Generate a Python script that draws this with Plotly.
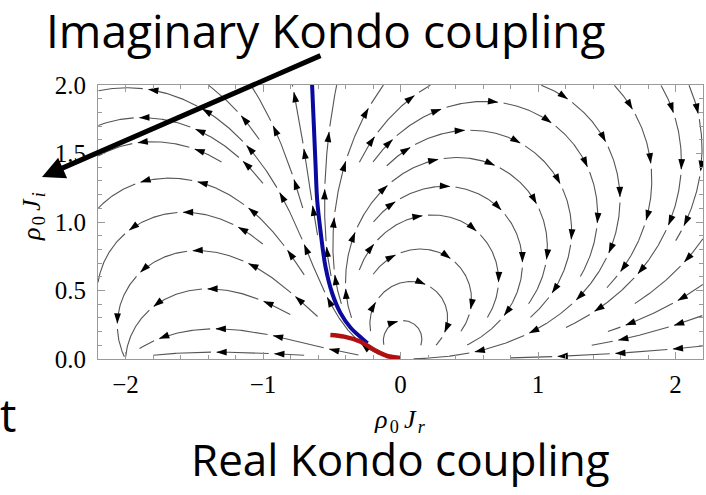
import numpy as np
import plotly.graph_objects as go

# Flow equation dJ/dl = -J^2 - J^3/2 for the complex coupling J = Jr + i Ji
# (polynomial coefficients, highest power first)
beta_coeffs = [-0.5, -1.0, 0.0, 0.0]

x_range = [-2.2, 2.2]
y_range = [0.0, 2.0]

# Streamline starting points (Jr, Ji)
left_seed_re = [-2.00, -1.94, -1.70, -1.70, -1.55, -1.51, -1.45, -1.36, -1.36]
left_seed_im = [1.98, 1.76, 1.58, 1.32, 1.07, 0.79, 0.51, 0.22, 0.05]
top_seed_re = [-1.36, -1.07, -0.78, -0.47, -0.145, 0.17, 1.09, 1.58, 1.91, 2.11]
top_seed_im = [1.97] * 10
arc_seed_re = [0.60, 0.49, 0.44, 0.34, 0.20, 0.10, 0.02, 0.02]
arc_seed_im = [1.88, 1.67, 1.47, 1.26, 1.05, 0.80, 0.56, 0.28]
edge_seed_re = [2.15] * 4
edge_seed_im = [0.09, 0.30, 0.51, 0.81]

# Separatrix (blue) and the physical trajectory (red)
blue_re = [-0.643, -0.63, -0.618, -0.606, -0.58, -0.545, -0.497, -0.436, -0.364, -0.28, -0.24]
blue_im = [2.00, 1.70, 1.42, 1.16, 0.92, 0.67, 0.48, 0.335, 0.23, 0.15, 0.115]
red_re = [-0.51, -0.41, -0.29, -0.19, -0.097, 0.0]
red_im = [0.175, 0.163, 0.126, 0.066, 0.022, 0.008]

x_ticks = [-2, -1, 0, 1, 2]
y_ticks = [0.0, 0.5, 1.0, 1.5, 2.0]

W, H = 706, 495
ML, MR, MT, MB = 98, 3, 85, 136


def field(x, y):
    b = np.polyval(beta_coeffs, complex(x, y))
    return b.real, b.imag


# occupancy grid keeps streamlines apart
CELL = 0.1
NX = int(np.ceil((x_range[1] - x_range[0]) / CELL))
NY = int(np.ceil((y_range[1] - y_range[0]) / CELL))
mask = -np.ones((NX, NY), dtype=int)


def cell_of(x, y):
    i = int((x - x_range[0]) / CELL)
    j = int((y - y_range[0]) / CELL)
    return min(max(i, 0), NX - 1), min(max(j, 0), NY - 1)


def integrate(x0, y0, sgn, tid, h=0.006, max_len=9.0):
    pts = [(x0, y0)]
    x, y = x0, y0
    for _ in range(int(max_len / h)):
        u, v = field(x, y)
        s = np.hypot(u, v)
        if s < 1e-10:
            break
        xm, ym = x + 0.5 * h * sgn * u / s, y + 0.5 * h * sgn * v / s
        u2, v2 = field(xm, ym)
        s2 = np.hypot(u2, v2)
        if s2 < 1e-10:
            break
        x, y = x + h * sgn * u2 / s2, y + h * sgn * v2 / s2
        if not (x_range[0] <= x <= x_range[1] and y_range[0] <= y <= y_range[1]):
            break
        if np.hypot(x, y) < 0.1 or np.hypot(x + 2.0, y) < 0.02:
            pts.append((x, y))
            break
        c = cell_of(x, y)
        if mask[c] not in (-1, tid):
            break
        mask[c] = tid
        pts.append((x, y))
    return pts


seeds = (list(zip(left_seed_re, left_seed_im)) + list(zip(top_seed_re, top_seed_im))
         + list(zip(arc_seed_re, arc_seed_im)) + list(zip(edge_seed_re, edge_seed_im)))

streams = []
for tid, (sx, sy) in enumerate(seeds):
    c = cell_of(sx, sy)
    if mask[c] != -1:
        continue
    mask[c] = tid
    back = integrate(sx, sy, -1, tid)
    fwd = integrate(sx, sy, 1, tid)
    pts = np.array(back[::-1] + fwd[1:])
    if len(pts) > 5:
        streams.append(pts)

line_x, line_y = [], []
arr_x, arr_y, arr_ang = [], [], []
SPACING, OFFSET, GAP = 0.42, 0.22, 0.035
for pts in streams:
    d = np.hypot(np.diff(pts[:, 0]), np.diff(pts[:, 1]))
    s = np.concatenate([[0], np.cumsum(d)])
    total = s[-1]
    marks = np.arange(OFFSET, total - 0.05, SPACING)
    keep = np.ones(len(pts), dtype=bool)
    for m in marks:
        px = np.interp(m, s, pts[:, 0])
        py = np.interp(m, s, pts[:, 1])
        u, v = field(px, py)
        arr_x.append(px)
        arr_y.append(py)
        arr_ang.append(float(np.degrees(np.arctan2(u, v))))
        keep &= ~((s > m) & (s < m + GAP))
    seg_x, seg_y = [], []
    for k in range(len(pts)):
        if keep[k]:
            seg_x.append(pts[k, 0])
            seg_y.append(pts[k, 1])
        elif seg_x and seg_x[-1] is not None:
            seg_x.append(None)
            seg_y.append(None)
    line_x += seg_x + [None]
    line_y += seg_y + [None]

fig = go.Figure()
fig.add_trace(go.Scatter(x=line_x, y=line_y, mode="lines",
                         line=dict(color="#555555", width=1.1),
                         hoverinfo="skip", showlegend=False))
fig.add_trace(go.Scatter(x=arr_x, y=arr_y, mode="markers",
                         marker=dict(symbol="arrow", size=11, angle=arr_ang,
                                     color="black", line=dict(width=0)),
                         hoverinfo="skip", showlegend=False))
fig.add_trace(go.Scatter(x=blue_re, y=blue_im, mode="lines",
                         line=dict(color="#0a0aa0", width=4, shape="spline"),
                         hoverinfo="skip", showlegend=False))
fig.add_trace(go.Scatter(x=red_re, y=red_im, mode="lines",
                         line=dict(color="#b01010", width=4.5, shape="spline"),
                         hoverinfo="skip", showlegend=False))

serif = "Liberation Serif"
sans = "Open Sans"
axis_common = dict(showline=True, linecolor="#9a9a9a", linewidth=1.2, mirror="allticks",
                   ticks="inside", tickcolor="#9a9a9a", ticklen=7, tickwidth=1,
                   showgrid=False, zeroline=False,
                   tickfont=dict(family=serif, size=25, color="black"))
fig.update_xaxes(range=x_range, tickvals=x_ticks, ticklabelstandoff=3,
                 minor=dict(ticks="inside", dtick=0.2, tick0=0, ticklen=4, tickcolor="#9a9a9a"),
                 **axis_common)
fig.update_yaxes(range=y_range, tickvals=y_ticks, tickformat=".1f", ticklabelstandoff=6,
                 minor=dict(ticks="inside", dtick=0.1, tick0=0, ticklen=4, tickcolor="#9a9a9a"),
                 **axis_common)


def px_to_paper(px, py):
    return (px - ML) / (W - ML - MR), (H - MB - py) / (H - MT - MB)


def label(px, py, text, family, size, angle=0):
    x, y = px_to_paper(px, py)
    return dict(x=x, y=y, xref="paper", yref="paper", xanchor="center", yanchor="middle",
                showarrow=False, text=text, textangle=angle,
                font=dict(family=family, size=size, color="black"))


annotations = [
    label(400, 421, "<i>ρ\u200a</i><sub>0</sub>\u2009<i>J\u200a</i><sub><i>r</i></sub>", serif, 26),
    label(33, 217, "<i>ρ\u200a</i><sub>0</sub>\u2009<i>J\u200a</i><sub><i>i</i></sub>", serif, 26, angle=-90),
    label(325, 30, "Imaginary Kondo coupling", sans, 46),
    label(400, 459, "Real Kondo coupling", sans, 44),
    label(8, 414, "t", sans, 46),
]
tx, ty = px_to_paper(42, 177)
annotations.append(dict(x=tx, y=ty, xref="paper", yref="paper", showarrow=True,
                        ax=280, ay=-122, axref="pixel", ayref="pixel", text="",
                        arrowhead=2, arrowsize=0.9, arrowwidth=5, arrowcolor="black"))

fig.update_layout(width=W, height=H, margin=dict(l=ML, r=MR, t=MT, b=MB),
                  paper_bgcolor="white", plot_bgcolor="white",
                  annotations=annotations, showlegend=False)

fig.write_html("out.html")
